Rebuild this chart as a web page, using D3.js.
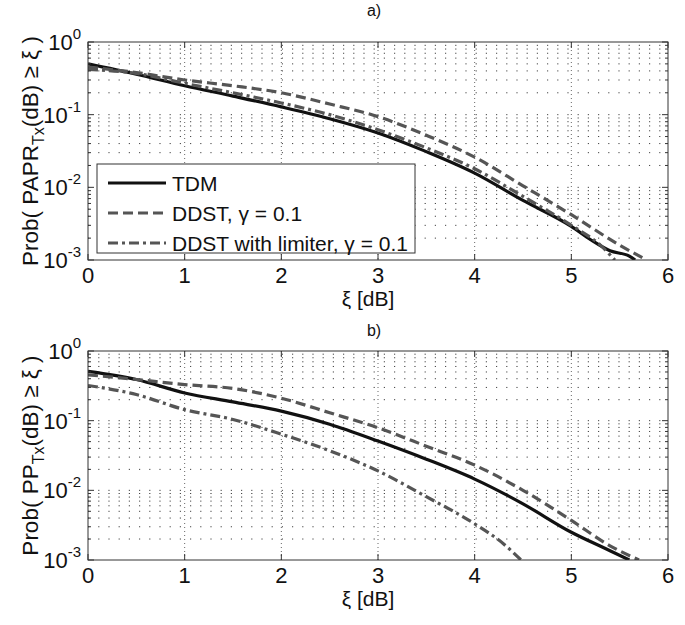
<!DOCTYPE html>
<html>
<head>
<meta charset="utf-8">
<script src="https://cdn.jsdelivr.net/npm/d3@7"></script>
<style>
  body { margin: 0; background: #fff; }
  text { font-family: "Liberation Sans", Arial, sans-serif; fill: #111; }
</style>
</head>
<body>
<div id="chart"></div>
<script>
let width = 685, height = 625;

// x positions (dB) and probabilities
let xiA_tdm = [0, 0.5, 1, 1.5, 2, 2.5, 3, 3.5, 4, 4.5, 5, 5.2, 5.4, 5.6, 5.66];
let probA_tdm = [0.5, 0.36, 0.25, 0.18, 0.128, 0.088, 0.056, 0.031, 0.0157, 0.0066, 0.0029, 0.0019, 0.00134, 0.00113, 0.001];
let xiA_ddst = [0, 0.5, 1, 1.5, 2, 2.5, 3, 3.5, 4, 4.5, 5, 5.5, 5.78];
let probA_ddst = [0.45, 0.38, 0.3, 0.25, 0.2, 0.14, 0.094, 0.052, 0.026, 0.0105, 0.0042, 0.0016, 0.001];
let xiA_lim = [0, 0.5, 1, 1.5, 2, 2.5, 3, 3.5, 4, 4.5, 5, 5.3, 5.45];
let probA_lim = [0.42, 0.37, 0.27, 0.2, 0.145, 0.1, 0.062, 0.035, 0.018, 0.0075, 0.003, 0.0016, 0.001];

let xiB_tdm = [0, 0.5, 1, 1.5, 2, 2.5, 3, 3.5, 4, 4.5, 5, 5.4, 5.6];
let probB_tdm = [0.51, 0.39, 0.25, 0.186, 0.137, 0.089, 0.051, 0.028, 0.0145, 0.0064, 0.0025, 0.00136, 0.001];
let xiB_ddst = [0, 0.5, 1, 1.5, 2, 2.5, 3, 3.5, 4, 4.5, 5, 5.4, 5.7];
let probB_ddst = [0.455, 0.39, 0.33, 0.29, 0.21, 0.13, 0.079, 0.043, 0.023, 0.01, 0.0037, 0.0016, 0.001];
let xiB_lim = [0, 0.5, 1, 1.5, 2, 2.5, 3, 3.5, 4, 4.3, 4.48];
let probB_lim = [0.32, 0.237, 0.144, 0.104, 0.064, 0.037, 0.019, 0.0081, 0.0033, 0.0017, 0.001];

let legendNames = ["TDM", "DDST, \u03b3 = 0.1", "DDST with limiter, \u03b3 = 0.1"];
let xTicks = [0, 1, 2, 3, 4, 5, 6];
let yExps = [0, -1, -2, -3];

let styles = [
  { color: "#111", dash: null },
  { color: "#555", dash: "10,5" },
  { color: "#555", dash: "10,4,3,4" }
];

let svg = d3.select("#chart").append("svg")
  .attr("width", width).attr("height", height);

function drawPanel(top, bottom, title, titleY, ylabMain, series, withLegend, id) {
  let left = 88, right = 668;
  let x = d3.scaleLinear().domain([0, 6]).range([left, right]);
  let y = d3.scaleLog().domain([1e-3, 1]).range([bottom, top]);
  let g = svg.append("g");

  // grid
  let minorVals = [];
  for (let e = -3; e < 0; e++) for (let m = 1; m < 10; m++) minorVals.push(m * Math.pow(10, e));
  g.selectAll(".hgrid").data(minorVals.filter(v => v > 1e-3)).enter().append("line")
    .attr("x1", left).attr("x2", right)
    .attr("y1", d => y(d)).attr("y2", d => y(d))
    .attr("stroke", "#444").attr("stroke-width", 1).attr("stroke-dasharray", "1.2,9");
  g.selectAll(".vgrid").data(xTicks.slice(1, -1)).enter().append("line")
    .attr("x1", d => x(d)).attr("x2", d => x(d))
    .attr("y1", top).attr("y2", bottom)
    .attr("stroke", "#666").attr("stroke-width", 1).attr("stroke-dasharray", "1,3");

  // curves
  svg.append("clipPath").attr("id", id).append("rect")
    .attr("x", left).attr("y", top).attr("width", right - left).attr("height", bottom - top);
  let line = d3.line().x(d => x(d[0])).y(d => y(d[1])).curve(d3.curveMonotoneX);
  series.forEach((s, i) => {
    g.append("path")
      .datum(d3.zip(s[0], s[1]))
      .attr("clip-path", "url(#" + id + ")")
      .attr("fill", "none")
      .attr("stroke", styles[i].color)
      .attr("stroke-width", 3.2)
      .attr("stroke-dasharray", styles[i].dash)
      .attr("d", line);
  });

  // box
  g.append("rect").attr("x", left).attr("y", top).attr("width", right - left).attr("height", bottom - top)
    .attr("fill", "none").attr("stroke", "#333").attr("stroke-width", 1);

  // ticks inside
  xTicks.forEach(t => {
    g.append("line").attr("x1", x(t)).attr("x2", x(t)).attr("y1", bottom).attr("y2", bottom - 6).attr("stroke", "#333");
    g.append("line").attr("x1", x(t)).attr("x2", x(t)).attr("y1", top).attr("y2", top + 6).attr("stroke", "#333");
  });
  minorVals.concat([1]).forEach(v => {
    let lg10 = Math.log10(v);
    let len = Math.abs(lg10 - Math.round(lg10)) < 1e-9 ? 6 : 3;
    g.append("line").attr("x1", left).attr("x2", left + len).attr("y1", y(v)).attr("y2", y(v)).attr("stroke", "#333");
    g.append("line").attr("x1", right).attr("x2", right - len).attr("y1", y(v)).attr("y2", y(v)).attr("stroke", "#333");
  });

  // tick labels
  g.selectAll(".xt").data(xTicks).enter().append("text")
    .attr("x", d => x(d)).attr("y", bottom + 23)
    .attr("text-anchor", "middle").attr("font-size", 22).text(d => d);
  yExps.forEach(e => {
    let t = g.append("text").attr("x", left - 7).attr("y", y(Math.pow(10, e)) + 8)
      .attr("text-anchor", "end").attr("font-size", 22);
    t.append("tspan").text("10");
    t.append("tspan").attr("dy", -11).attr("font-size", 15).text(e);
  });

  // labels
  g.append("text").attr("x", 368).attr("y", bottom + 46)
    .attr("text-anchor", "middle").attr("font-size", 21).text("\u03be [dB]");
  g.append("text").attr("x", 374).attr("y", titleY)
    .attr("text-anchor", "middle").attr("font-size", 16).text(title);
  let yl = g.append("text")
    .attr("transform", "translate(38," + ((top + bottom) / 2) + ") rotate(-90)")
    .attr("text-anchor", "middle").attr("font-size", 22.5);
  yl.append("tspan").text("Prob( " + ylabMain);
  yl.append("tspan").attr("dy", 6).attr("font-size", 16).text("Tx");
  yl.append("tspan").attr("dy", -6).text("(dB) \u2265 \u03be )");

  if (withLegend) {
    let lg = g.append("g");
    lg.append("rect").attr("x", 97).attr("y", 164).attr("width", 318).attr("height", 89)
      .attr("fill", "#fff").attr("stroke", "#333").attr("stroke-width", 1);
    legendNames.forEach((n, i) => {
      let ly = 183 + i * 30;
      lg.append("line").attr("x1", 108).attr("x2", 166).attr("y1", ly).attr("y2", ly)
        .attr("stroke", styles[i].color).attr("stroke-width", 3.2).attr("stroke-dasharray", styles[i].dash);
      lg.append("text").attr("x", 172).attr("y", ly + 8).attr("font-size", 21).text(n);
    });
  }
}

drawPanel(42, 260, "a)", 16, "PAPR",
  [[xiA_tdm, probA_tdm], [xiA_ddst, probA_ddst], [xiA_lim, probA_lim]], true, "clipA");
drawPanel(351, 560, "b)", 336, "PP",
  [[xiB_tdm, probB_tdm], [xiB_ddst, probB_ddst], [xiB_lim, probB_lim]], false, "clipB");
</script>
</body>
</html>
